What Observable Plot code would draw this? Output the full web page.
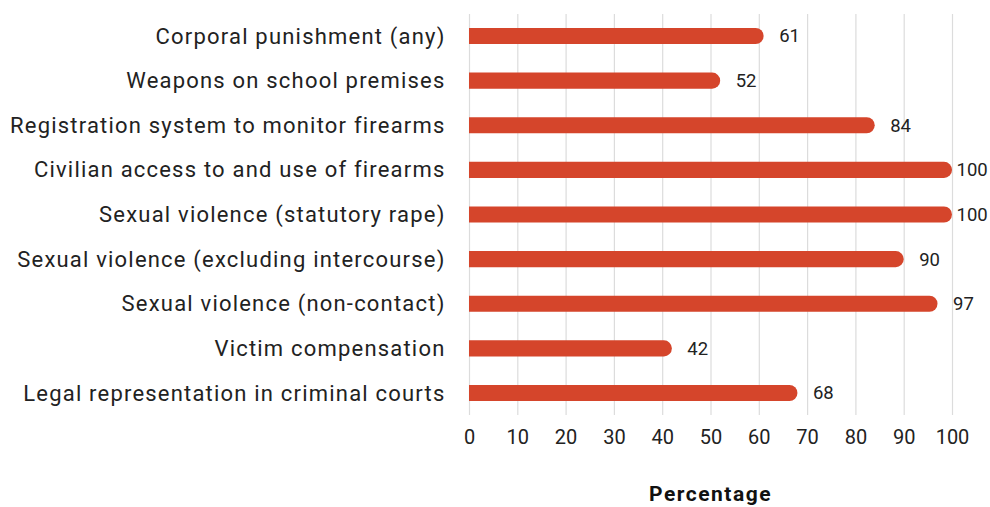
<!DOCTYPE html>
<html><head><meta charset="utf-8">
<script src="https://cdn.jsdelivr.net/npm/d3@7"></script>
<script src="https://cdn.jsdelivr.net/npm/@observablehq/plot@0.6"></script>
<style>
body{margin:0;background:#fff;font-family:Roboto,"Noto Sans",sans-serif;}
#wrap{width:990px;}
#xlabel{text-align:center;width:483px;margin-left:469px;font-weight:700;font-size:21px;letter-spacing:1.5px;color:#111;margin-top:14px;}
</style></head>
<body><div id="wrap"><div id="chart"></div><div id="xlabel">Percentage</div></div>
<script>
const categories = [
  "Corporal punishment (any)",
  "Weapons on school premises",
  "Registration system to monitor firearms",
  "Civilian access to and use of firearms",
  "Sexual violence (statutory rape)",
  "Sexual violence (excluding intercourse)",
  "Sexual violence (non-contact)",
  "Victim compensation",
  "Legal representation in criminal courts"
];
const values = [61, 52, 84, 100, 100, 90, 97, 42, 68];
const xTicks = [0,10,20,30,40,50,60,70,80,90,100];

const data = categories.map((c,i)=>({category:c, value:values[i]}));
const color = "#d5452b";

const plot = Plot.plot({
  width: 990,
  height: 468,
  marginLeft: 469,
  marginRight: 38,
  marginTop: 14,
  marginBottom: 53,
  style: {fontFamily: "Roboto, 'Noto Sans', sans-serif", background: "#fff", color: "#222", overflow: "visible"},
  x: {domain: [0,100], ticks: xTicks, label: null, grid: false},
  y: {domain: categories, paddingInner: 0.64, paddingOuter: 0.313, round: false, label: null},
  marks: [
    Plot.ruleX(xTicks, {stroke: "#dcdcdc", strokeWidth: 1.2}),
    // rounded bar that starts left of zero; the frame clip squares off its left end
    Plot.barX(data, {y: "category", x1: -4, x2: "value", fill: color, rx: 8, clip: true}),
    Plot.text(data.filter(d => d.value < 100), {y: "category", x: "value", text: d => String(d.value),
      textAnchor: "start", dx: 15, fontSize: 18.5, fill: "#222"}),
    Plot.text(data.filter(d => d.value >= 100), {y: "category", x: "value", text: d => String(d.value),
      textAnchor: "start", dx: 4, fontSize: 18.5, fill: "#222"}),
    Plot.axisY({tickSize: 0, tickPadding: 24, fontSize: 22, label: null}),
    Plot.axisX({ticks: xTicks, tickSize: 0, tickPadding: 14, fontSize: 20, label: null})
  ]
});
document.getElementById("chart").appendChild(plot);
d3.select(plot).selectAll("g[aria-label='y-axis tick label'] text").attr("letter-spacing", "1.2px");
</script></body></html>
